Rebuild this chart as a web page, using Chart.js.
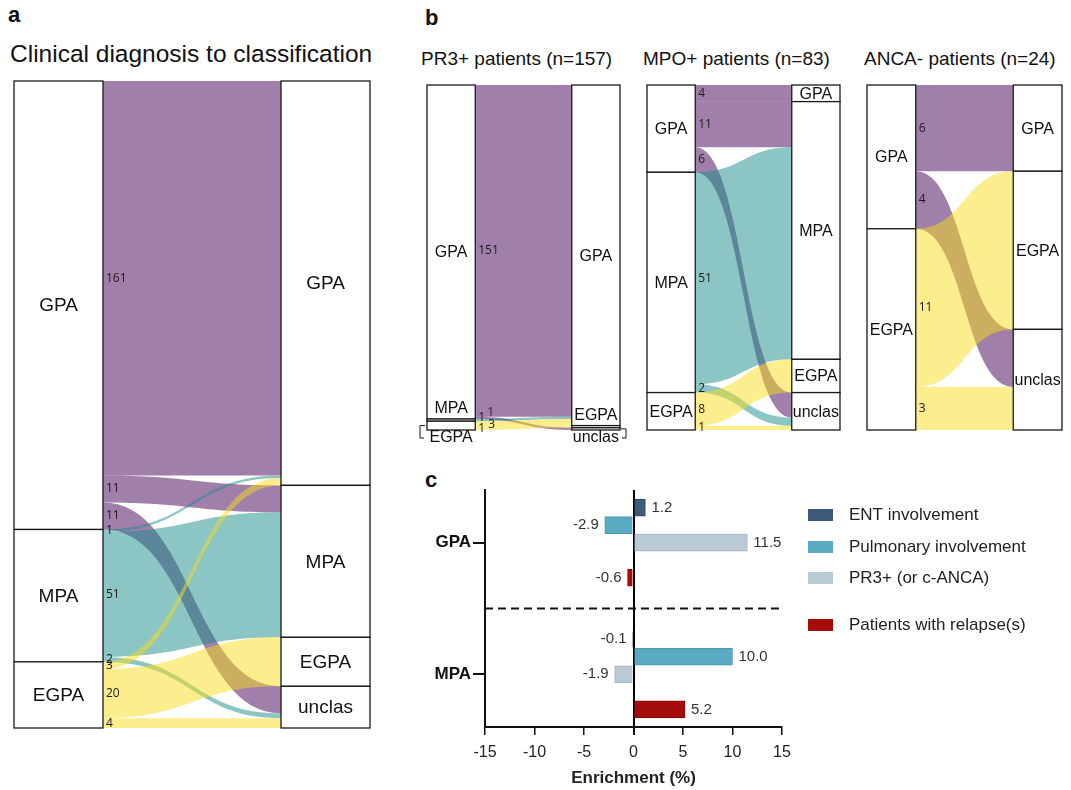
<!DOCTYPE html>
<html>
<head>
<meta charset="utf-8">
<script src="https://cdn.jsdelivr.net/npm/chart.js@4"></script>
<style>
  body { margin: 0; background: #fff; width: 1071px; height: 790px; position: relative; overflow: hidden;
         font-family: "Liberation Sans", Arial, sans-serif; color: #111; }
  .t { position: absolute; line-height: 1; white-space: nowrap; }
  canvas { position: absolute; }
</style>
</head>
<body>
<div class="t" style="left:8px;top:4px;font-size:22px;font-weight:bold">a</div>
<div class="t" style="left:10px;top:42px;font-size:24.5px">Clinical diagnosis to classification</div>
<div class="t" style="left:425px;top:7px;font-size:22px;font-weight:bold">b</div>
<div class="t" style="left:421px;top:49px;font-size:19px">PR3+ patients (n=157)</div>
<div class="t" style="left:643px;top:49px;font-size:19px">MPO+ patients (n=83)</div>
<div class="t" style="left:864px;top:49px;font-size:19px">ANCA- patients (n=24)</div>
<div class="t" style="left:425px;top:469px;font-size:22px;font-weight:bold">c</div>

<canvas id="sankeyAll" width="400" height="680" style="left:0;top:70px"></canvas>
<canvas id="sankeyPR3" width="235" height="380" style="left:400px;top:70px"></canvas>
<canvas id="sankeyMPO" width="225" height="380" style="left:635px;top:70px"></canvas>
<canvas id="sankeyANCA" width="211" height="380" style="left:860px;top:70px"></canvas>
<canvas id="enrich" width="651" height="320" style="left:420px;top:470px"></canvas>

<script>
// ---- data ----
const classes = ["GPA", "MPA", "EGPA", "unclas"];

// a: all patients, clinical diagnosis -> classification
const allFrom = ["GPA", "GPA", "GPA", "MPA", "MPA", "MPA", "EGPA", "EGPA", "EGPA"];
const allTo   = ["GPA", "MPA", "unclas", "GPA", "MPA", "unclas", "GPA", "EGPA", "unclas"];
const allN    = [161, 11, 11, 1, 51, 2, 3, 20, 4];

// b: by ANCA type
const pr3From = ["GPA", "GPA", "MPA", "EGPA", "EGPA"];
const pr3To   = ["GPA", "unclas", "GPA", "GPA", "EGPA"];
const pr3N    = [151, 1, 1, 3, 1];

const mpoFrom = ["GPA", "GPA", "GPA", "MPA", "MPA", "EGPA", "EGPA"];
const mpoTo   = ["GPA", "MPA", "unclas", "MPA", "unclas", "EGPA", "unclas"];
const mpoN    = [4, 11, 6, 51, 2, 8, 1];

const ancaFrom = ["GPA", "GPA", "EGPA", "EGPA"];
const ancaTo   = ["GPA", "unclas", "EGPA", "unclas"];
const ancaN    = [6, 4, 11, 3];

// c: enrichment
const groups = ["GPA", "MPA"];
const seriesNames = ["ENT involvement", "Pulmonary involvement", "PR3+ (or c-ANCA)", "Patients with relapse(s)"];
const gpaEnrichment = [1.2, -2.9, 11.5, -0.6];
const mpaEnrichment = [-0.1, 10.0, -1.9, 5.2];
const xTicks = [-15, -10, -5, 0, 5, 10, 15];

// ---- styles ----
const flowColors = {
  GPA: "rgba(65,0,85,0.5)",
  MPA: "rgba(25,141,137,0.5)",
  EGPA: "rgba(249,221,25,0.5)"
};
const barColors = ["#3e5a7a", "#5aaac4", "#b9cad5", "#a50d0d"];
const barBorders = ["#304a66", "#4b98b2", "#a0b3bf", "#8a0505"];
const FONT = '"Liberation Sans", Arial, sans-serif';

function makeSankey(cfg) {
  return {
    id: "sankey",
    afterDraw(chart) {
      const ctx = chart.ctx;
      const xs = chart.scales.x, ys = chart.scales.y;
      const { from, to, counts } = cfg;
      const sumBy = (arr, n) => counts.reduce((s, v, i) => s + (arr[i] === n ? v : 0), 0);
      const stack = (arr) => {
        let acc = 0;
        const o = {};
        classes.filter(c => arr.includes(c)).forEach(n => {
          const v = sumBy(arr, n);
          o[n] = { start: acc, end: acc + v, cur: acc };
          acc += v;
        });
        return o;
      };
      const L = stack(from), R = stack(to);
      const seg = counts.map((v, i) => {
        const a = L[from[i]].cur, b = R[to[i]].cur;
        L[from[i]].cur += v;
        R[to[i]].cur += v;
        return { a, b, v };
      });

      const x0 = xs.getPixelForValue(1), x1 = xs.getPixelForValue(3), xm = (x0 + x1) / 2;
      ctx.save();
      seg.forEach((s, i) => {
        const ya0 = ys.getPixelForValue(s.a), ya1 = ys.getPixelForValue(s.a + s.v);
        const yb0 = ys.getPixelForValue(s.b), yb1 = ys.getPixelForValue(s.b + s.v);
        ctx.beginPath();
        ctx.moveTo(x0, ya0);
        ctx.bezierCurveTo(xm, ya0, xm, yb0, x1, yb0);
        ctx.lineTo(x1, yb1);
        ctx.bezierCurveTo(xm, yb1, xm, ya1, x0, ya1);
        ctx.closePath();
        ctx.fillStyle = flowColors[from[i]];
        ctx.fill();
      });

      // value labels
      ctx.fillStyle = "#1a1a1a";
      ctx.font = '12px "Open Sans", sans-serif';
      ctx.textAlign = "left";
      ctx.textBaseline = "middle";
      seg.forEach((s, i) => {
        const nd = (cfg.nudge && cfg.nudge[i]) || [0, 0];
        const y = ys.getPixelForValue(s.a + s.v / 2);
        ctx.fillText(String(s.v), x0 + 3 + nd[0], y + nd[1]);
      });

      // nodes
      ctx.strokeStyle = "#1a1a1a";
      ctx.lineWidth = 1.3;
      const boxes = [];
      [["L", L, 0, 1], ["R", R, 3, 4]].forEach(([side, nodes, a, b]) => {
        const xa = xs.getPixelForValue(a), xb = xs.getPixelForValue(b);
        Object.keys(nodes).forEach(n => {
          const yt = ys.getPixelForValue(nodes[n].start), yb = ys.getPixelForValue(nodes[n].end);
          ctx.fillStyle = "#fff";
          ctx.fillRect(xa, yt, xb - xa, yb - yt);
          ctx.strokeRect(xa, yt, xb - xa, yb - yt);
          boxes.push({ side, n, xa, xb, yt, yb });
        });
      });

      // node labels
      ctx.fillStyle = "#111";
      ctx.font = cfg.nodeFont + "px " + FONT;
      ctx.textAlign = "center";
      boxes.forEach(bx => {
        const place = (cfg.place || {})[bx.side + ":" + bx.n] || "center";
        const cx = (bx.xa + bx.xb) / 2;
        if (place === "center") {
          ctx.fillText(bx.n, cx, (bx.yt + bx.yb) / 2 + 1);
        } else if (place === "above") {
          ctx.fillText(bx.n, cx, bx.yt - 10);
        } else {
          const ty = bx.yb + 8;
          ctx.fillText(bx.n, cx, ty);
          const yc = (bx.yt + bx.yb) / 2;
          ctx.lineWidth = 1;
          ctx.beginPath();
          if (bx.side === "L") {
            const px = bx.xa - 7;
            ctx.moveTo(px + 5, yc); ctx.lineTo(px, yc); ctx.lineTo(px, ty); ctx.lineTo(px + 4, ty);
          } else {
            const px = bx.xb + 6;
            ctx.moveTo(px - 5, yc); ctx.lineTo(px, yc); ctx.lineTo(px, ty); ctx.lineTo(px - 4, ty);
          }
          ctx.stroke();
        }
      });
      ctx.restore();
    }
  };
}

function sankeyChart(id, from, to, counts, padding, extra) {
  const total = counts.reduce((a, b) => a + b, 0);
  return new Chart(document.getElementById(id), {
    type: "scatter",
    data: { datasets: [] },
    options: {
      responsive: false,
      animation: false,
      devicePixelRatio: 1,
      layout: { padding },
      scales: {
        x: { type: "linear", min: 0, max: 4, display: false },
        y: { type: "linear", min: 0, max: total, reverse: true, display: false }
      },
      plugins: { legend: { display: false }, tooltip: { enabled: false } }
    },
    plugins: [makeSankey(Object.assign({ from, to, counts, nodeFont: 16 }, extra))]
  });
}

sankeyChart("sankeyAll", allFrom, allTo, allN, { left: 14, top: 11, right: 30, bottom: 22 }, { nodeFont: 19 });
sankeyChart("sankeyPR3", pr3From, pr3To, pr3N, { left: 27, top: 15, right: 15, bottom: 20 }, {
  place: { "L:MPA": "above", "L:EGPA": "below", "R:EGPA": "above", "R:unclas": "below" },
  nudge: [[0, 0], [9, -5], [0, -3], [10, 0], [0, 0]]
});
sankeyChart("sankeyMPO", mpoFrom, mpoTo, mpoN, { left: 12, top: 15, right: 20, bottom: 20 }, {});
sankeyChart("sankeyANCA", ancaFrom, ancaTo, ancaN, { left: 7, top: 15, right: 9, bottom: 20 }, {});

// ---- panel c ----
const slotInGroup = [0, 1, 2, 4];
const groupStep = 7.5;
const groupTick = 2;
const separator = (slotInGroup[3] + groupStep) / 2;

const barLabels = {
  id: "barLabels",
  afterDatasetsDraw(chart) {
    const ctx = chart.ctx;
    ctx.save();
    ctx.font = "15px " + FONT;
    ctx.fillStyle = "#333";
    ctx.textBaseline = "middle";
    chart.data.datasets.forEach((ds, di) => {
      chart.getDatasetMeta(di).data.forEach((el, i) => {
        const v = ds.data[i].x;
        ctx.textAlign = v >= 0 ? "left" : "right";
        ctx.fillText(v.toFixed(1), el.x + (v >= 0 ? 6 : -6), el.y);
      });
    });
    // dashed separator between groups
    const { left, right } = chart.chartArea;
    const ys = chart.scales.y.getPixelForValue(separator);
    ctx.strokeStyle = "#111";
    ctx.lineWidth = 2;
    ctx.setLineDash([8, 5]);
    ctx.beginPath();
    ctx.moveTo(left, ys);
    ctx.lineTo(right - 2, ys);
    ctx.stroke();
    ctx.setLineDash([]);

    // legend
    const lx = chart.chartArea.right + 26;
    const rows = [25, 57, 88, 135];
    ctx.font = "17px " + FONT;
    ctx.textAlign = "left";
    seriesNames.forEach((name, i) => {
      const y = chart.chartArea.top + rows[i];
      ctx.fillStyle = barColors[i];
      ctx.fillRect(lx, y - 6, 25, 12);
      ctx.fillStyle = "#222";
      ctx.fillText(name, lx + 41, y);
    });
    ctx.restore();
  }
};

new Chart(document.getElementById("enrich"), {
  type: "bar",
  data: {
    datasets: seriesNames.map((name, i) => ({
      label: name,
      data: [
        { x: gpaEnrichment[i], y: slotInGroup[i] },
        { x: mpaEnrichment[i], y: groupStep + slotInGroup[i] }
      ],
      backgroundColor: barColors[i],
      borderColor: barBorders[i],
      borderWidth: 1,
      barThickness: 17,
      grouped: false
    }))
  },
  options: {
    indexAxis: "y",
    responsive: false,
    animation: false,
    devicePixelRatio: 1,
    layout: { padding: { left: 0, top: 20, right: 289, bottom: 0 } },
    scales: {
      x: {
        type: "linear",
        position: "bottom",
        min: -15,
        max: 15,
        offset: false,
        afterBuildTicks: (s) => { s.ticks = xTicks.map(v => ({ value: v })); },
        afterFit: (s) => { s.height = 63; },
        ticks: { color: "#222", font: { size: 16, family: FONT }, padding: 8 },
        grid: {
          offset: false,
          drawOnChartArea: true,
          color: (c) => (c.tick && c.tick.value === 0 ? "#000" : "rgba(0,0,0,0)"),
          tickColor: "#111",
          tickLength: 8,
          lineWidth: (c) => (c.tick && c.tick.value === 0 ? 2 : 1.5)
        },
        border: { display: true, color: "#111", width: 2 },
        title: { display: true, text: "Enrichment (%)", color: "#222", font: { size: 17, weight: "bold", family: FONT }, padding: { top: 0, bottom: 1 } }
      },
      y: {
        type: "linear",
        reverse: true,
        offset: false,
        bounds: "data",
        min: -1,
        max: 12.5,
        afterBuildTicks: (s) => { s.ticks = groups.map((g, i) => ({ value: i * groupStep + groupTick })); },
        afterFit: (s) => { s.width = 65; },
        ticks: {
          color: "#111",
          padding: 2,
          font: { size: 17, weight: "bold", family: FONT },
          callback: (v, i) => groups[i]
        },
        grid: { offset: false, drawOnChartArea: false, tickLength: 12, color: "#111", lineWidth: 2 },
        border: { display: true, color: "#111", width: 2 }
      }
    },
    plugins: { legend: { display: false }, tooltip: { enabled: false } }
  },
  plugins: [barLabels]
});
</script>
</body>
</html>
